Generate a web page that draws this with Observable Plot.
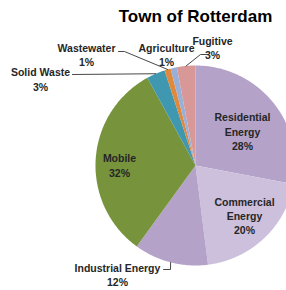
<!DOCTYPE html>
<html><head><meta charset="utf-8">
<script src="https://cdn.jsdelivr.net/npm/d3@7"></script>
<script src="https://cdn.jsdelivr.net/npm/@observablehq/plot@0.6"></script>
<style>body{margin:0;background:#fff} svg{display:block}</style>
</head><body><div id="chart"></div>
<script>
// ---- data ----
const title = "Town of Rotterdam";
const categories = ["Residential Energy","Commercial Energy","Industrial Energy","Mobile","Solid Waste","Wastewater","Agriculture","Fugitive"];
const values = [28, 20, 12, 32, 3, 1, 1, 3];
const labelLines = [["Residential","Energy"],["Commercial","Energy"],["Industrial Energy"],["Mobile"],["Solid Waste"],["Wastewater"],["Agriculture"],["Fugitive"]];

// ---- style / layout ----
const colors = ["#b4a2c8","#ccc0dc","#b4a2c8","#77933c","#4098b0","#e0883c","#98b0d8","#d89898"];
const W = 286, H = 290, cx = 195, cy = 165, R = 100;
const labelAt = [[242,130.5],[244,215],[117,274],[119,164.5],[40,78.5],[86,54],[166,54],[212,47]];
// leader line bends (label side), final point is slice edge at mid-angle
const leaderBends = [null, null, [[163,269],[170,269]], null, [[72,74]], [[118,51],[124,51]], null, [[207,54],[200,54]]];

const total = d3.sum(values);
let cum = 0;
const slices = categories.map((name, i) => {
  const a0 = cum / total * 2 * Math.PI; cum += values[i];
  const a1 = cum / total * 2 * Math.PI;
  return {name, value: values[i], a0, a1, mid: (a0 + a1) / 2, i};
});
const polar = (a, r) => [cx + r * Math.sin(a), cy - r * Math.cos(a)];

const piePts = [];
for (const s of slices) {
  piePts.push({name: s.name, p: [cx, cy]});
  const n = Math.max(2, Math.ceil((s.a1 - s.a0) / 0.01));
  for (let k = 0; k <= n; k++) piePts.push({name: s.name, p: polar(s.a0 + (s.a1 - s.a0) * k / n, R)});
}

const labels = slices.map(s => ({
  text: [...labelLines[s.i], Math.round(s.value) + "%"].join("\n"),
  x: labelAt[s.i][0], y: labelAt[s.i][1]
}));

const leaders = [];
slices.forEach(s => {
  const b = leaderBends[s.i];
  if (!b) return;
  b.forEach(p => leaders.push({name: s.name, p}));
  leaders.push({name: s.name, p: polar(s.mid, R)});
});

const chart = Plot.plot({
  width: W, height: H,
  margin: 0,
  x: {domain: [0, W], range: [0, W], axis: null},
  y: {domain: [0, H], range: [0, H], axis: null},
  color: {domain: categories, range: colors},
  style: {fontFamily: "Liberation Sans, Arial, sans-serif", background: "#fff"},
  marks: [
    Plot.line(piePts, {x: d => d.p[0], y: d => d.p[1], z: "name", fill: "name", stroke: "none", curve: "linear-closed"}),
    Plot.line(leaders, {x: d => d.p[0], y: d => d.p[1], z: "name", stroke: "#333", strokeWidth: 0.9}),
    Plot.text(labels, {x: "x", y: "y", text: "text", fontSize: 10.5, fontWeight: "bold", fill: "#262626", lineHeight: 1.35, lineAnchor: "middle", textAnchor: "middle"}),
    Plot.text([title], {x: () => cx, y: () => 16.5, text: d => d, fontSize: 17, fontWeight: "bold", fill: "#000", textAnchor: "middle", lineAnchor: "middle"})
  ]
});
document.getElementById("chart").append(chart);
</script>
</body></html>
